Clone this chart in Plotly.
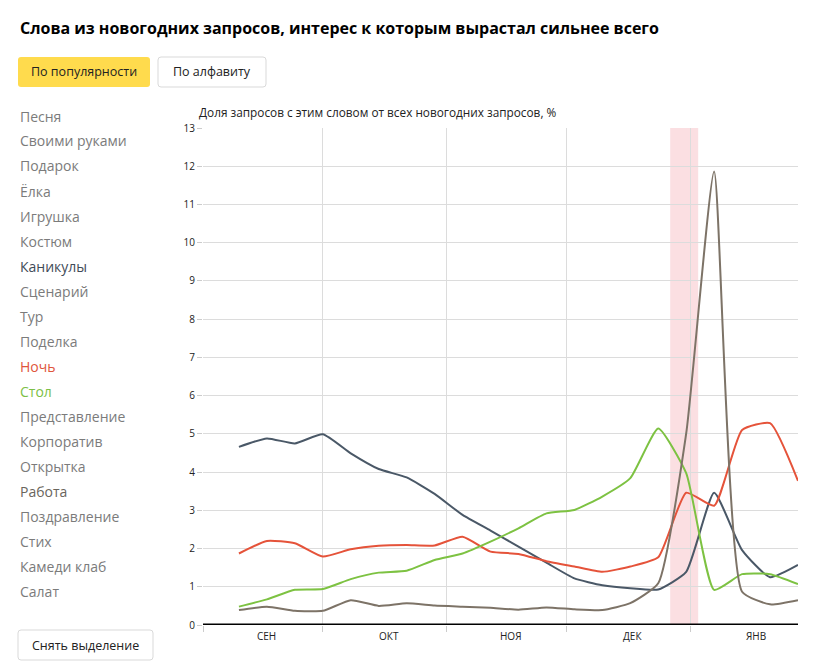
import plotly.graph_objects as go
import pandas as pd

# ---------------- data ----------------
start_date = "2016-09-10"
n_weeks = 21
dates = pd.date_range(start_date, periods=n_weeks, freq="7D")

kanikuly = [4.66, 4.88, 4.75, 4.99, 4.49, 4.08, 3.86, 3.43, 2.88, 2.47, 2.05,
            1.63, 1.22, 1.04, 0.96, 0.93, 1.39, 3.46, 1.96, 1.25, 1.57]
noch = [1.87, 2.20, 2.14, 1.79, 1.98, 2.07, 2.09, 2.08, 2.31, 1.92, 1.86,
        1.67, 1.53, 1.39, 1.53, 1.77, 3.46, 3.12, 5.10, 5.28, 3.77]
stol = [0.48, 0.67, 0.92, 0.94, 1.20, 1.37, 1.42, 1.70, 1.87, 2.18, 2.53,
        2.92, 3.01, 3.36, 3.84, 5.14, 3.97, 0.92, 1.33, 1.33, 1.07]
rabota = [0.39, 0.48, 0.37, 0.37, 0.65, 0.50, 0.57, 0.51, 0.48, 0.45, 0.40,
          0.46, 0.41, 0.39, 0.57, 1.09, 5.01, 11.86, 0.87, 0.54, 0.65]

series_names = ["Каникулы", "Ночь", "Стол", "Работа"]
series_values = [kanikuly, noch, stol, rabota]
series_colors = ["#4a5867", "#e5533a", "#7dc242", "#7d7367"]

words = ["Песня", "Своими руками", "Подарок", "Ёлка", "Игрушка", "Костюм",
         "Каникулы", "Сценарий", "Тур", "Поделка", "Ночь", "Стол",
         "Представление", "Корпоратив", "Открытка", "Работа", "Поздравление",
         "Стих", "Камеди клаб", "Салат"]

month_starts = ["2016-09-01", "2016-10-01", "2016-11-01", "2016-12-01", "2017-01-01"]
month_labels = ["СЕН", "ОКТ", "НОЯ", "ДЕК", "ЯНВ"]
holiday_period = ["2016-12-27", "2017-01-03"]
y_ticks = list(range(0, 14))

title_text = "Слова из новогодних запросов, интерес к которым вырастал сильнее всего"
axis_title = "Доля запросов с этим словом от всех новогодних запросов, %"
btn_popular = "По популярности"
btn_alpha = "По алфавиту"
btn_reset = "Снять выделение"

# ---------------- layout geometry (pixels) ----------------
W, H = 828, 672
L, R, T, B = 203, 798, 128, 625
FONT = "Open Sans"


def px(x):
    return (x - L) / (R - L)


def py(y):
    return (B - y) / (B - T)


def rounded_rect(x0, y0, x1, y1, r=3):
    X = lambda v: px(v)
    Y = lambda v: py(v)
    return (f"M {X(x0 + r)} {Y(y0)} L {X(x1 - r)} {Y(y0)} "
            f"Q {X(x1)} {Y(y0)} {X(x1)} {Y(y0 + r)} "
            f"L {X(x1)} {Y(y1 - r)} Q {X(x1)} {Y(y1)} {X(x1 - r)} {Y(y1)} "
            f"L {X(x0 + r)} {Y(y1)} Q {X(x0)} {Y(y1)} {X(x0)} {Y(y1 - r)} "
            f"L {X(x0)} {Y(y0 + r)} Q {X(x0)} {Y(y0)} {X(x0 + r)} {Y(y0)} Z")


fig = go.Figure()

for name, vals, col in zip(series_names, series_values, series_colors):
    fig.add_trace(go.Scatter(
        x=dates, y=vals, name=name, mode="lines",
        line=dict(color=col, width=2, shape="spline", smoothing=0.5),
        hoverinfo="skip", cliponaxis=False,
    ))

x_end = dates[-1]

shapes = []
shapes.append(dict(type="rect", xref="x", yref="y",
                   x0=holiday_period[0], x1=holiday_period[1], y0=0, y1=13,
                   fillcolor="rgba(248,196,202,0.55)", line=dict(width=0),
                   layer="below"))
shapes.append(dict(type="line", xref="paper", yref="y", x0=0, x1=1, y0=0, y1=0,
                   line=dict(color="#000000", width=3), layer="above"))
shapes.append(dict(type="path", xref="paper", yref="paper",
                   path=rounded_rect(18, 57, 150, 87), fillcolor="#ffdb4d",
                   line=dict(width=0)))
shapes.append(dict(type="path", xref="paper", yref="paper",
                   path=rounded_rect(158, 57, 266, 87), fillcolor="#ffffff",
                   line=dict(color="#d9d9d9", width=1)))
shapes.append(dict(type="path", xref="paper", yref="paper",
                   path=rounded_rect(18, 630, 153, 660), fillcolor="#ffffff",
                   line=dict(color="#d9d9d9", width=1)))

annotations = []
annotations.append(dict(text=f"<b>{title_text}</b>", xref="paper", yref="paper",
                        x=px(18), y=py(28), xanchor="left", yanchor="middle",
                        showarrow=False, font=dict(family=FONT, size=16, color="#000000")))
annotations.append(dict(text=btn_popular, xref="paper", yref="paper",
                        x=px(84), y=py(72), xanchor="center", yanchor="middle",
                        showarrow=False, font=dict(family=FONT, size=12.5, color="#222222")))
annotations.append(dict(text=btn_alpha, xref="paper", yref="paper",
                        x=px(212), y=py(72), xanchor="center", yanchor="middle",
                        showarrow=False, font=dict(family=FONT, size=12.5, color="#222222")))
annotations.append(dict(text=btn_reset, xref="paper", yref="paper",
                        x=px(85.5), y=py(645), xanchor="center", yanchor="middle",
                        showarrow=False, font=dict(family=FONT, size=12.5, color="#222222")))
annotations.append(dict(text=axis_title, xref="paper", yref="paper",
                        x=px(197), y=py(112), xanchor="left", yanchor="middle",
                        showarrow=False, font=dict(family=FONT, size=11.8, color="#222222")))

word_colors = {n: c for n, c in zip(series_names, ["#3f4b57", "#e0553c", "#7cbf46", "#6a655c"])}
for i, w in enumerate(words):
    annotations.append(dict(text=w, xref="paper", yref="paper",
                            x=px(18), y=py(116 + 25 * i), xanchor="left", yanchor="middle",
                            showarrow=False,
                            font=dict(family=FONT, size=14, color=word_colors.get(w, "#7b7b7b"))))

month_ends = month_starts[1:] + [str((pd.Timestamp(month_starts[-1]) + pd.offsets.MonthBegin(1)).date())]
for s, e, lab in zip(month_starts, month_ends, month_labels):
    mid = pd.Timestamp(s) + (pd.Timestamp(e) - pd.Timestamp(s)) / 2 + pd.Timedelta(days=1)
    annotations.append(dict(text=lab, xref="x", yref="paper", x=mid, y=py(636),
                            xanchor="center", yanchor="middle", showarrow=False,
                            font=dict(family=FONT, size=10, color="#222222")))

fig.update_layout(
    width=W, height=H,
    margin=dict(l=L, r=W - R, t=T, b=H - B, pad=0),
    paper_bgcolor="#ffffff", plot_bgcolor="#ffffff",
    showlegend=False,
    shapes=shapes, annotations=annotations,
    font=dict(family=FONT, size=10, color="#222222"),
    xaxis=dict(type="date", range=[month_starts[0], x_end],
               tickmode="array", tickvals=month_starts, ticktext=[""] * len(month_starts),
               showgrid=True, gridcolor="#dcdcdc", gridwidth=1,
               ticks="outside", ticklen=6, tickcolor="#cccccc",
               zeroline=False, showline=False, fixedrange=True),
    yaxis=dict(range=[0, 13], tickmode="array", tickvals=y_ticks,
               showgrid=True, gridcolor="#dcdcdc", gridwidth=1,
               ticks="outside", ticklen=5, tickcolor="#cccccc",
               tickfont=dict(family=FONT, size=10, color="#222222"),
               zeroline=False, showline=False, fixedrange=True),
)

fig.write_html("out.html")
